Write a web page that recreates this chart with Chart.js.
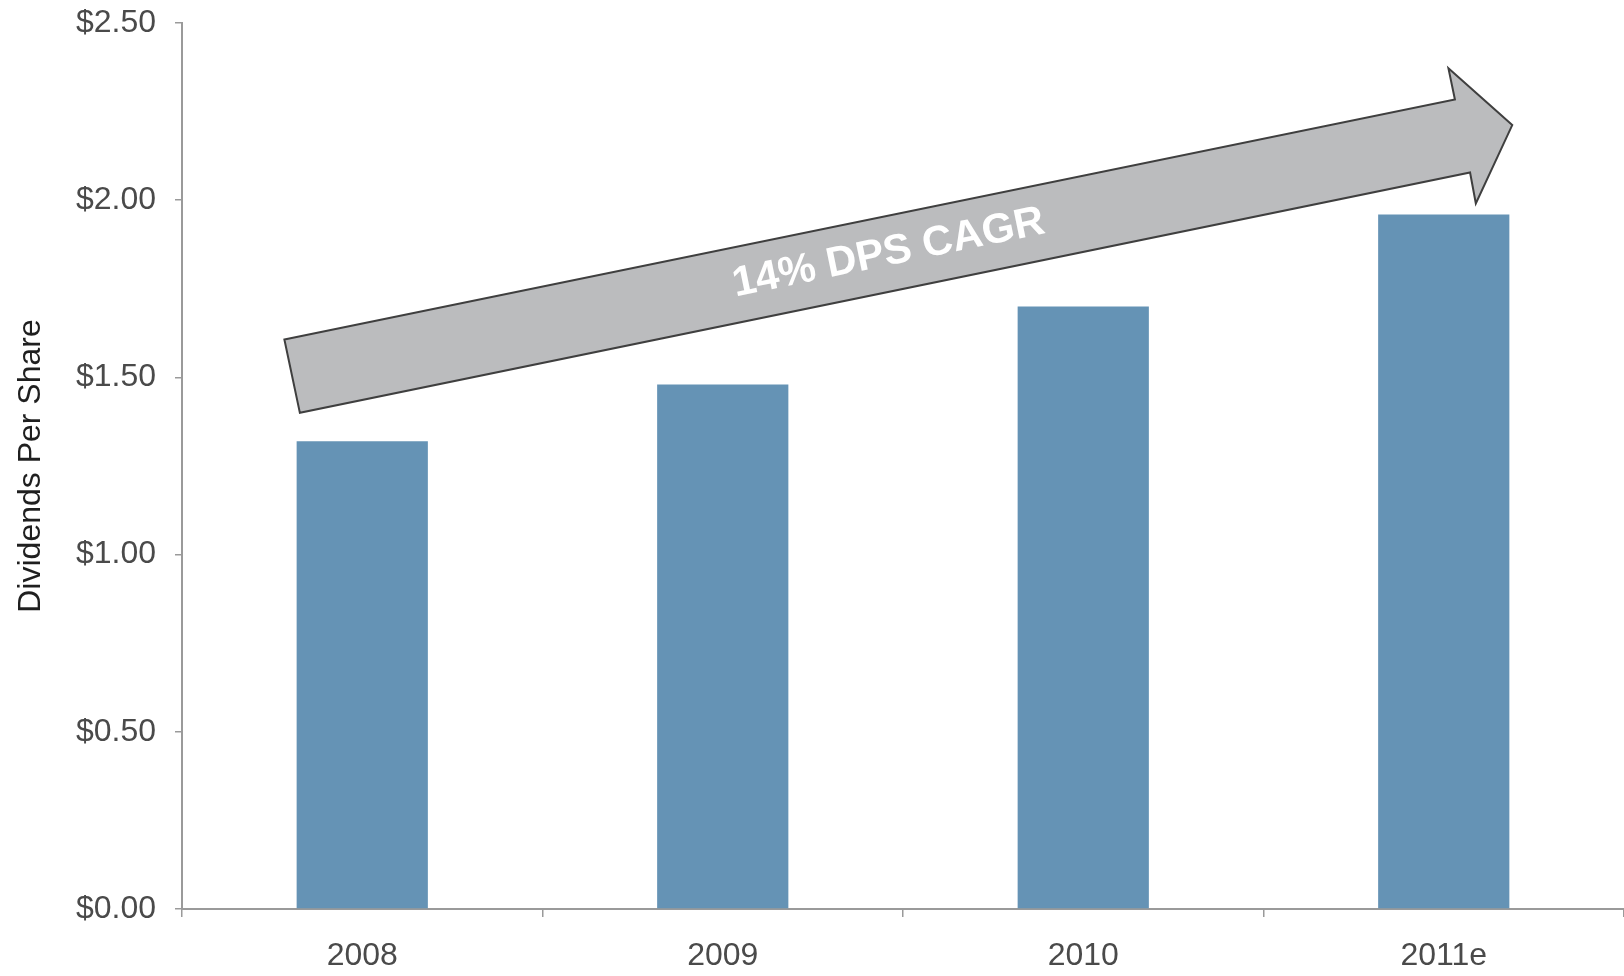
<!DOCTYPE html>
<html>
<head>
<meta charset="utf-8">
<script src="https://cdn.jsdelivr.net/npm/chart.js@4/dist/chart.umd.min.js"></script>
<style>
  html, body { margin: 0; padding: 0; background: #fff; }
  #wrap { width: 1624px; height: 976px; position: relative; }
</style>
</head>
<body>
<div id="wrap"><canvas id="c"></canvas></div>
<script>
// data
const years = ['2008', '2009', '2010', '2011e'];
const dps = [1.32, 1.48, 1.70, 1.96];
const yTicks = [0, 0.5, 1.0, 1.5, 2.0, 2.5];

// growth arrow, in (category index, value) space
const arrowLabel = '14% DPS CAGR';
const arrowPts = [
  [-0.216, 1.607], [3.031, 2.284], [3.013, 2.372], [3.190, 2.212],
  [3.089, 1.991], [3.073, 2.078], [-0.173, 1.400]
];
const arrowTextAt = [1.46, 1.85];

const FONT = "'Liberation Sans', Arial, sans-serif";
const AXIS = '#9a9a9a';

const arrowPlugin = {
  id: 'cagrArrow',
  afterDatasetsDraw(chart) {
    const { ctx, scales: { x, y } } = chart;
    const pts = arrowPts.map(p => [x.getPixelForValue(p[0]), y.getPixelForValue(p[1])]);
    ctx.save();
    ctx.beginPath();
    pts.forEach((p, i) => i ? ctx.lineTo(p[0], p[1]) : ctx.moveTo(p[0], p[1]));
    ctx.closePath();
    ctx.fillStyle = '#bbbcbe';
    ctx.fill();
    ctx.lineWidth = 2;
    ctx.strokeStyle = '#3f3f3f';
    ctx.lineJoin = 'miter';
    ctx.stroke();

    const ang = Math.atan2(pts[1][1] - pts[0][1], pts[1][0] - pts[0][0]);
    ctx.translate(x.getPixelForValue(arrowTextAt[0]), y.getPixelForValue(arrowTextAt[1]));
    ctx.rotate(ang);
    ctx.fillStyle = '#ffffff';
    ctx.font = 'bold 42px ' + FONT;
    ctx.textAlign = 'center';
    ctx.textBaseline = 'middle';
    ctx.fillText(arrowLabel, 0, 0);
    ctx.restore();
  }
};

new Chart(document.getElementById('c'), {
  type: 'bar',
  data: {
    labels: years,
    datasets: [{
      data: dps,
      backgroundColor: '#6593b5',
      borderWidth: 0,
      barPercentage: 0.364,
      categoryPercentage: 1
    }]
  },
  options: {
    responsive: true,
    maintainAspectRatio: false,
    animation: false,
    layout: { padding: { top: 23, right: 0, bottom: 0, left: 0 } },
    plugins: {
      legend: { display: false },
      tooltip: { enabled: false }
    },
    scales: {
      x: {
        afterFit(s) { s.height = 67; },
        grid: {
          offset: true,
          drawOnChartArea: false,
          drawTicks: true,
          tickLength: 8,
          color: AXIS,
          lineWidth: 1.5
        },
        border: { display: true, color: AXIS, width: 2 },
        ticks: {
          color: '#4a4a4a',
          padding: 20,
          font: { family: FONT, size: 32 }
        }
      },
      y: {
        min: 0,
        max: 2.5,
        afterFit(s) {
          s.width = 182;
          s.paddingTop = 0;
          s.paddingBottom = 0;
        },
        afterBuildTicks(s) { s.ticks = yTicks.map(v => ({ value: v })); },
        grid: {
          drawOnChartArea: false,
          drawTicks: true,
          tickLength: 7,
          color: AXIS,
          lineWidth: 1.5
        },
        border: { display: true, color: AXIS, width: 2 },
        ticks: {
          color: '#4a4a4a',
          padding: 19,
          font: { family: FONT, size: 32 },
          callback: v => '$' + Number(v).toFixed(2)
        },
        title: {
          display: true,
          text: 'Dividends Per Share',
          color: '#1f1f1f',
          padding: { top: 12, bottom: 0 },
          font: { family: FONT, size: 32 }
        }
      }
    }
  },
  plugins: [arrowPlugin]
});
</script>
</body>
</html>
